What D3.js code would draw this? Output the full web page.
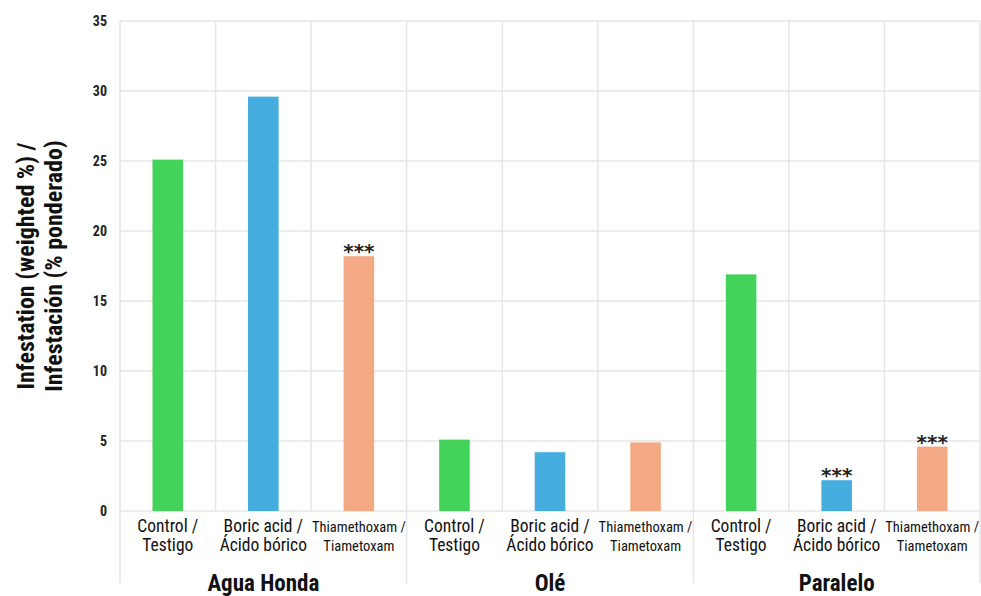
<!DOCTYPE html>
<html><head><meta charset="utf-8">
<script src="https://cdn.jsdelivr.net/npm/d3@7"></script>
<style>
body{margin:0;background:#fff;}
svg{display:block;}
text{font-family:"Liberation Sans Narrow","Roboto Condensed","Arial Narrow",sans-serif;}
text.stars{font-family:"DejaVu Sans",sans-serif;}
</style></head><body>
<svg id="c" width="981" height="596"></svg>
<script>
const groups = ["Agua Honda", "Olé", "Paralelo"];
const treatments = ["Control", "Boric", "Thiam"];
const treatmentLabels = [["Control /", "Testigo"], ["Boric acid /", "Ácido bórico"], ["Thiamethoxam /", "Tiametoxam"]];
const aguaHonda = [25.1, 29.6, 18.2];
const ole = [5.1, 4.2, 4.9];
const paralelo = [16.9, 2.2, 4.6];
const significance = [["", "", "***"], ["", "", ""], ["", "***", "***"]];
const yTicks = [0, 5, 10, 15, 20, 25, 30, 35];
const colors = ["#44d35a", "#46aedf", "#f2a984"];
const yTitle = ["Infestation (weighted %) /", "Infestación (% ponderado)"];

const seriesByGroup = [aguaHonda, ole, paralelo];
const data = [];
groups.forEach((g, gi) => treatments.forEach((t, ti) => {
  data.push({g, gi, t, ti, key: g + "|" + t, v: seriesByGroup[gi][ti], sig: significance[gi][ti]});
}));

const svg = d3.select("#c");
const L = 120, R = 980, T = 21, B = 511;
const x = d3.scaleBand().domain(data.map(d => d.key)).range([L, R]).padding(0);
const xg = d3.scaleBand().domain(groups).range([L, R]).padding(0);
const y = d3.scaleLinear().domain([0, 35]).range([B, T]);
const bw = x.bandwidth() * 0.32;

// horizontal grid
svg.append("g").selectAll("line").data(yTicks).join("line")
  .attr("x1", L).attr("x2", R).attr("y1", d => y(d)).attr("y2", d => y(d))
  .attr("stroke", "#e6e6e6").attr("stroke-width", 1.5);

// vertical column lines
const colEdges = data.map(d => x(d.key)).concat([R]);
svg.append("g").selectAll("line").data(colEdges).join("line")
  .attr("x1", d => d).attr("x2", d => d)
  .attr("y1", T)
  .attr("y2", (d, i) => (i % 3 === 0) ? 583 : B)
  .attr("stroke", "#e6e6e6").attr("stroke-width", 1.5);

// y tick labels
svg.append("g").selectAll("text").data(yTicks).join("text")
  .attr("x", 107).attr("y", d => y(d)).attr("dy", "0.35em")
  .attr("text-anchor", "end").attr("font-size", 14).attr("font-weight", "bold")
  .attr("fill", "#222").text(d => d);

// bars
svg.append("g").selectAll("rect").data(data).join("rect")
  .attr("x", d => x(d.key) + x.bandwidth() / 2 - bw / 2)
  .attr("width", bw)
  .attr("y", d => y(d.v))
  .attr("height", d => y(0) - y(d.v))
  .attr("fill", d => colors[d.ti]);

// significance stars
svg.append("g").selectAll("text").data(data.filter(d => d.sig)).join("text")
  .attr("class", "stars")
  .attr("x", d => x(d.key) + x.bandwidth() / 2)
  .attr("y", d => y(d.v) + 2)
  .attr("text-anchor", "middle").attr("font-size", 20).attr("font-weight", "bold").attr("fill", "#222")
  .text(d => d.sig);

// x tick labels
const xl = svg.append("g").selectAll("text").data(data).join("text")
  .attr("text-anchor", "middle").attr("fill", "#111")
  .attr("font-size", d => d.ti === 2 ? 14.5 : 17.5);
xl.each(function(d) {
  const el = d3.select(this);
  const cx = x(d.key) + x.bandwidth() / 2;
  treatmentLabels[d.ti].forEach((s, i) => {
    el.append("tspan").attr("x", cx).attr("y", 532 + i * 19).text(s);
  });
});

// group labels
svg.append("g").selectAll("text").data(groups).join("text")
  .attr("x", d => xg(d) + xg.bandwidth() / 2).attr("y", 591)
  .attr("text-anchor", "middle").attr("font-size", 23).attr("font-weight", "bold")
  .attr("fill", "#111").text(d => d);

// y title
const yt = svg.append("text").attr("transform", "translate(0,266) rotate(-90)")
  .attr("text-anchor", "middle").attr("font-size", 24).attr("font-weight", "bold").attr("fill", "#111");
yTitle.forEach((s, i) => yt.append("tspan").attr("x", 0).attr("y", 34 + i * 28).text(s));
</script>
</body></html>
